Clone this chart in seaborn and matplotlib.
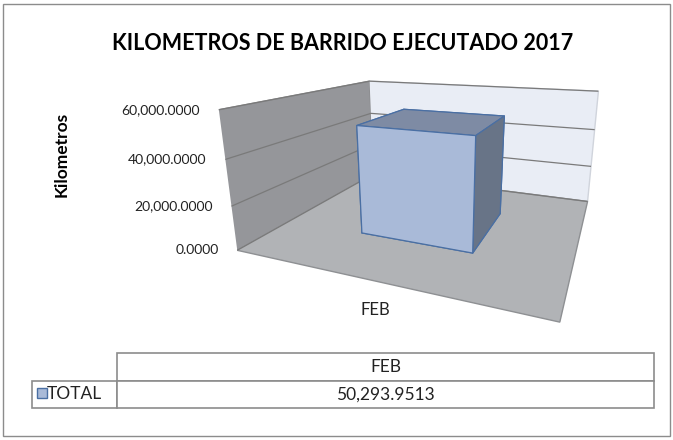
import numpy as np
import matplotlib
matplotlib.use("Agg")
import matplotlib.pyplot as plt
import seaborn as sns
from matplotlib.patches import Rectangle
from mpl_toolkits.mplot3d import proj3d

MONTHS = ["FEB"]
SERIES = "TOTAL"
TOTAL_KM = [50293.9513]
Z_TICKS = [0, 20000, 40000, 60000]
TITLE = "KILOMETROS DE BARRIDO EJECUTADO 2017"
Y_LABEL = "Kilometros"

FRONT = "#A9BAD8"
TOP = "#7E8BA4"
SIDE = "#687487"
EDGE = "#4A6FA3"

sns.set_theme(style="white")
plt.rcParams["font.family"] = ["Lato", "DejaVu Sans"]
plt.rcParams["grid.color"] = "#7A7A7A"
plt.rcParams["grid.linewidth"] = 0.9

fig = plt.figure(figsize=(6.73, 4.4), dpi=100)
fig.patch.set_facecolor("white")
fig.add_artist(Rectangle((0.005, 0.008), 0.99, 0.982, transform=fig.transFigure,
                         fill=False, edgecolor="#8C8C8C", lw=1.0))

fig.text(0.509, 0.90, TITLE, ha="center", va="center", fontsize=15.5,
         fontweight="bold", color="black")

#3d chart
ax = fig.add_axes([0.29, 0.30, 0.7, 0.64], projection="3d")
ax.set_proj_type("persp", focal_length=0.3)
ax.view_init(elev=16, azim=-68)
ax.set_box_aspect((1.6, 1.4, 0.72), zoom=1.38)
ax.set_facecolor("none")
ax.set_xlim(0, 1)
ax.set_ylim(0, 1)
ax.set_zlim(0, Z_TICKS[-1])
ax.set_xticks([])
ax.set_yticks([])
ax.set_zticks(Z_TICKS)
ax.set_zticklabels([])
panes = {ax.xaxis: ("#95969A", "#8A8B8E"),
         ax.yaxis: ("#E9EDF5", "#D0D4DC"),
         ax.zaxis: ("#B1B3B6", "#8E9093")}
for axis, (fc, ec) in panes.items():
    axis.set_pane_color(fc, alpha=1)
    axis.pane.set_edgecolor(ec)
    axis.line.set_color((0, 0, 0, 0))
    axis._axinfo["tick"]["inward_factor"] = 0
    axis._axinfo["tick"]["outward_factor"] = 0

for i, v in enumerate(TOTAL_KM):
    ax.bar3d(i + 0.3, 0.3, 0, 0.4, 0.4, v,
             color=[FRONT, TOP, FRONT, FRONT, SIDE, SIDE],
             shade=False, edgecolor=EDGE, linewidth=0.9)

# place tick labels by projecting the 3d points
fig.canvas.draw()
M = ax.get_proj()
def to_fig(x, y, z):
    px, py, _ = proj3d.proj_transform(x, y, z, M)
    disp = ax.transData.transform((px, py))
    return fig.transFigure.inverted().transform(disp)

for z in Z_TICKS:
    fx, fy = to_fig(0, 0, z)
    fig.text(fx - 0.028, fy, f"{z:,.4f}", ha="right", va="center", fontsize=10, color="#222222")
for i, m in enumerate(MONTHS):
    fx, fy = to_fig(i + 0.5, 0, 0)
    fig.text(fx, fy - 0.065, m, ha="center", va="center", fontsize=12, color="#222222")

fig.text(0.092, 0.648, Y_LABEL, rotation=90, ha="center", va="center",
         fontsize=12.5, fontweight="bold", color="black")

#data table
tax = fig.add_axes([32 / 673, 32 / 440, 622 / 673, 55 / 440])
tax.axis("off")
cells = [[""] + MONTHS, [SERIES] + [f"{v:,.4f}" for v in TOTAL_KM]]
tbl = tax.table(cellText=cells, cellLoc="center",
                colWidths=[85 / 622] + [537 / 622 / len(MONTHS)] * len(MONTHS),
                bbox=[0, 0, 1, 1])
tbl.auto_set_font_size(False)
for (r, c), cell in tbl.get_celld().items():
    cell.set_edgecolor("#8C8C8C")
    cell.set_linewidth(1.2)
    cell.get_text().set_fontsize(12.5)
    cell.get_text().set_color("#222222")
tbl[0, 0].visible_edges = "open"
tbl[1, 0]._loc = "right"
tbl[1, 0].PAD = 0.04
tax.add_patch(Rectangle((5 / 622, 0.18), 10 / 622, 0.18, transform=tax.transAxes,
                        facecolor=FRONT, edgecolor=EDGE, lw=1.0, clip_on=False))

fig.savefig("out.png", dpi=100)
